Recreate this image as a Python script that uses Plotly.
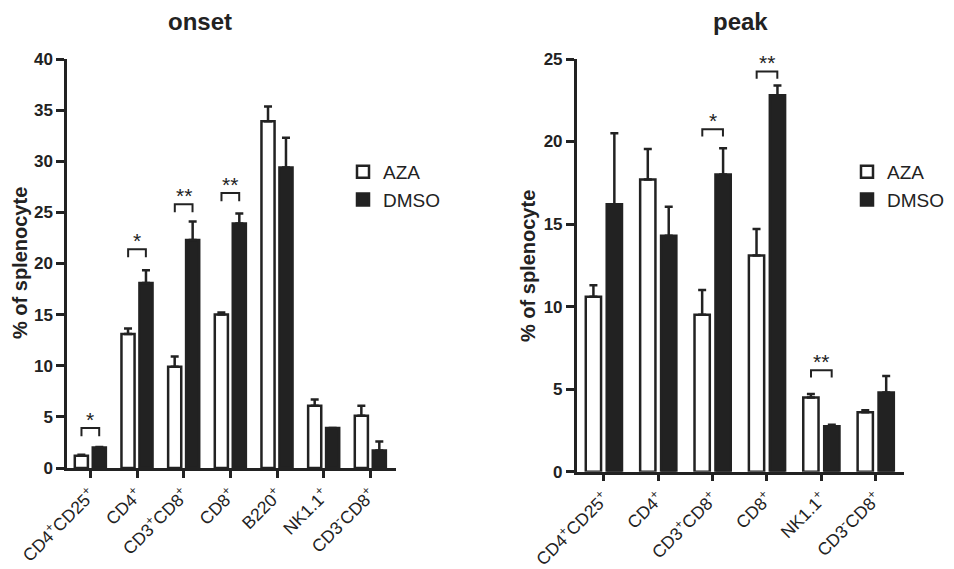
import plotly.graph_objects as go

# ---------------- data ----------------
onset_labels = ["CD4<sup>+</sup>CD25<sup>+</sup>", "CD4<sup>+</sup>", "CD3<sup>+</sup>CD8<sup>+</sup>",
                "CD8<sup>+</sup>", "B220<sup>+</sup>", "NK1.1<sup>+</sup>", "CD3<sup>-</sup>CD8<sup>+</sup>"]
onset_aza = [1.2, 13.1, 9.9, 15.0, 33.9, 6.1, 5.1]
onset_aza_err = [0.1, 0.55, 1.0, 0.2, 1.45, 0.6, 1.0]
onset_dmso = [2.0, 18.1, 22.3, 23.9, 29.4, 3.9, 1.7]
onset_dmso_err = [0.05, 1.25, 1.8, 1.0, 2.9, 0.0, 0.9]
# significance: (category index, bracket level, label)
onset_sig = [(0, 3.9, "*"), (1, 21.4, "*"), (2, 25.8, "**"), (3, 26.9, "**")]

peak_labels = ["CD4<sup>+</sup>CD25<sup>+</sup>", "CD4<sup>+</sup>", "CD3<sup>+</sup>CD8<sup>+</sup>",
               "CD8<sup>+</sup>", "NK1.1<sup>+</sup>", "CD3<sup>-</sup>CD8<sup>+</sup>"]
peak_aza = [10.6, 17.7, 9.5, 13.1, 4.5, 3.6]
peak_aza_err = [0.7, 1.85, 1.5, 1.6, 0.2, 0.12]
peak_dmso = [16.2, 14.3, 18.0, 22.8, 2.75, 4.8]
peak_dmso_err = [4.3, 1.75, 1.6, 0.6, 0.1, 1.0]
peak_sig = [(2, 20.75, "*"), (3, 24.25, "**"), (4, 6.15, "**")]

# ---------------- style ----------------
W, H = 954, 569
INK = "#222222"
FONT = "Arial, Liberation Sans, sans-serif"
BAR_LW = 2.5

fig = go.Figure()


def add_panel(xa, ya, labels, aza, aza_err, dmso, dmso_err, legend):
    idx = list(range(len(labels)))
    fig.add_trace(go.Bar(
        x=idx, y=aza, name="AZA", xaxis=xa, yaxis=ya, legend=legend,
        marker=dict(color="white", line=dict(color=INK, width=BAR_LW)),
        error_y=dict(type="data", array=aza_err, arrayminus=[0] * len(aza),
                     symmetric=False, color=INK, thickness=2.5, width=4),
    ))
    fig.add_trace(go.Bar(
        x=idx, y=dmso, name="DMSO", xaxis=xa, yaxis=ya, legend=legend,
        marker=dict(color=INK, line=dict(color=INK, width=BAR_LW)),
        error_y=dict(type="data", array=dmso_err, arrayminus=[0] * len(dmso),
                     symmetric=False, color=INK, thickness=2.5, width=4),
    ))


add_panel("x", "y", onset_labels, onset_aza, onset_aza_err, onset_dmso, onset_dmso_err, "legend")
add_panel("x2", "y2", peak_labels, peak_aza, peak_aza_err, peak_dmso, peak_dmso_err, "legend2")

HALF = 0.19
shapes, annots = [], []
for sig, xr, yr, drop in [(onset_sig, "x", "y", 0.8), (peak_sig, "x2", "y2", 0.45)]:
    for i, lvl, lab in sig:
        shapes.append(dict(type="path", xref=xr, yref=yr,
                           path=f"M {i-HALF},{lvl-drop} L {i-HALF},{lvl} L {i+HALF},{lvl} L {i+HALF},{lvl-drop}",
                           line=dict(color=INK, width=2)))
        annots.append(dict(x=i, y=lvl, xref=xr, yref=yr, text=lab, showarrow=False,
                           yanchor="bottom", yshift=-5,
                           font=dict(family=FONT, size=21, color=INK)))

# titles
annots.append(dict(x=200 / W, y=1 - 22 / H, xref="paper", yref="paper", text="onset", showarrow=False,
                   xanchor="center", yanchor="middle",
                   font=dict(family=FONT, size=24, color=INK, weight="bold")))
annots.append(dict(x=740 / W, y=1 - 22 / H, xref="paper", yref="paper", text="peak", showarrow=False,
                   xanchor="center", yanchor="middle",
                   font=dict(family=FONT, size=24, color=INK, weight="bold")))
# y-axis titles
for xp, yp in [(20 / W, 1 - 263 / H), (528 / W, 1 - 266 / H)]:
    annots.append(dict(x=xp, y=yp, xref="paper", yref="paper", text="% of splenocyte", showarrow=False,
                       textangle=-90, xanchor="center", yanchor="middle",
                       font=dict(family=FONT, size=20, color=INK, weight="bold")))

xcommon = dict(showline=True, linecolor=INK, linewidth=2.5, ticks="outside", ticklen=7, tickwidth=2.5,
               tickcolor=INK, showgrid=False, zeroline=False, tickangle=-45, automargin=False,
               tickfont=dict(family=FONT, size=17.5, color=INK))
ycommon = dict(showline=True, linecolor=INK, linewidth=2.5, ticks="outside", ticklen=8, tickwidth=2.5,
               tickcolor=INK, showgrid=False, zeroline=False, automargin=False,
               tickfont=dict(family=FONT, size=17, color=INK, weight="bold"))

fig.update_layout(
    width=W, height=H, margin=dict(l=0, r=0, t=0, b=0, autoexpand=False),
    plot_bgcolor="white", paper_bgcolor="white",
    barmode="group", bargap=0.23, bargroupgap=0.27,
    font=dict(family=FONT, color=INK),
    xaxis=dict(xcommon, domain=[67 / W, 396 / W], range=[-0.5, 6.55],
               tickmode="array", tickvals=list(range(len(onset_labels))), ticktext=onset_labels, anchor="y"),
    yaxis=dict(ycommon, domain=[1 - 468 / H, 1 - 59 / H], range=[0, 40], dtick=5, anchor="x"),
    xaxis2=dict(xcommon, domain=[576.7 / W, 904 / W], range=[-0.5, 5.52],
                tickmode="array", tickvals=list(range(len(peak_labels))), ticktext=peak_labels, anchor="y2"),
    yaxis2=dict(ycommon, domain=[1 - 471.7 / H, 1 - 59 / H], range=[0, 25], dtick=5, anchor="x2"),
    legend=dict(x=343 / W, y=1 - 153 / H, xanchor="left", yanchor="top", bgcolor="rgba(0,0,0,0)",
                font=dict(family=FONT, size=19, color=INK), tracegroupgap=0),
    legend2=dict(x=847 / W, y=1 - 153 / H, xanchor="left", yanchor="top", bgcolor="rgba(0,0,0,0)",
                 font=dict(family=FONT, size=19, color=INK), tracegroupgap=0),
    shapes=shapes, annotations=annots,
)

fig.write_html("out.html", config={"displayModeBar": False},
               post_script="document.body.style.margin='0px';")
